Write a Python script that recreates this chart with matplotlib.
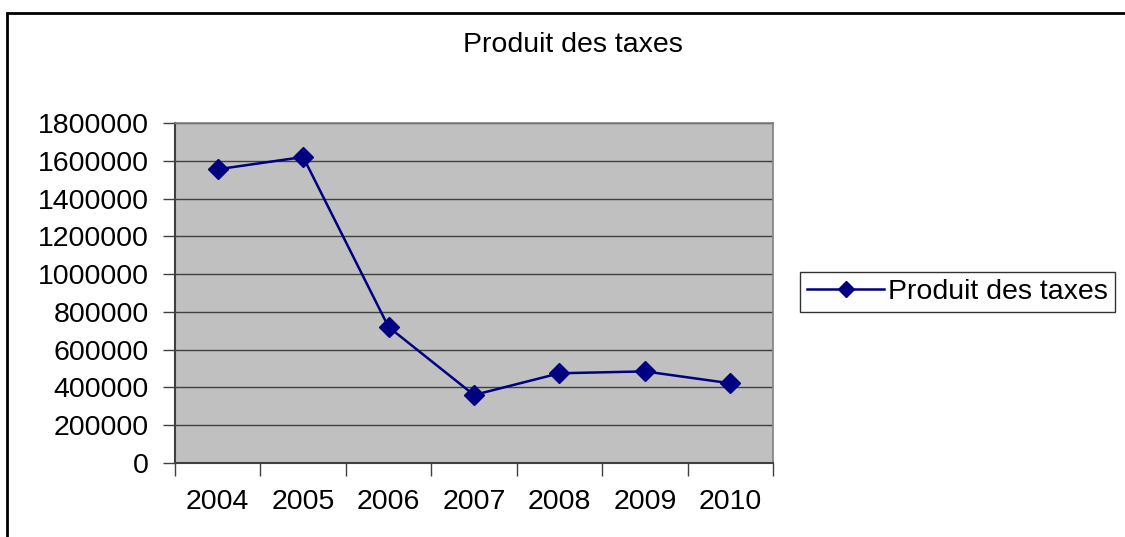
import matplotlib.pyplot as plt
from matplotlib.patches import Rectangle

plt.rcParams['font.family'] = ['Liberation Sans', 'DejaVu Sans']

# Data
years = ['2004', '2005', '2006', '2007', '2008', '2009', '2010']
produit = [1555000, 1620000, 720000, 360000, 475000, 485000, 422000]
yticks = list(range(0, 1800001, 200000))

W, H = 1125, 537
fig = plt.figure(figsize=(W / 100, H / 100), dpi=100)
fig.patch.set_facecolor('white')

ax = fig.add_axes([175 / W, 1 - 463 / H, (773 - 175) / W, (463 - 123) / H])
ax.set_facecolor('#c0c0c0')

x = list(range(len(years)))
ax.plot(x, produit, color='#000080', linewidth=1.8, marker='D', markersize=10,
        markeredgecolor='#000080', markerfacecolor='#000080', label='Produit des taxes',
        zorder=3, clip_on=False)

FS = 20.5
ax.set_xlim(-0.5, len(years) - 0.5)
ax.set_ylim(0, 1800000)
ax.set_yticks(yticks)
ax.set_yticklabels([str(v) for v in yticks], fontsize=FS)
ax.set_xticks([i - 0.5 for i in range(len(years) + 1)])
ax.set_xticklabels([])
ax.set_xticks(x, minor=True)
ax.set_xticklabels(years, minor=True, fontsize=FS)
ax.tick_params(axis='x', which='minor', length=0, pad=19)
ax.tick_params(axis='x', which='major', length=9, width=1, color='#404040')
ax.tick_params(axis='y', length=9, width=1, color='#404040', pad=10)

ax.grid(axis='y', color='#404040', linewidth=1)
ax.set_axisbelow(True)
for side in ['top', 'right']:
    ax.spines[side].set_color('#808080')
    ax.spines[side].set_linewidth(1.2)
for side in ['left', 'bottom']:
    ax.spines[side].set_color('#404040')
    ax.spines[side].set_linewidth(1.5)

fig.text(573 / W, 1 - 45 / H, 'Produit des taxes', ha='center', va='center', fontsize=FS)

leg = fig.legend(loc='center left', bbox_to_anchor=(800 / W, 1 - 292 / H),
                 bbox_transform=fig.transFigure, fontsize=FS, frameon=True,
                 fancybox=False, handlelength=2.7, handletextpad=0.15,
                 borderpad=0.25, borderaxespad=0, markerscale=0.8)
leg.get_frame().set_edgecolor('black')
leg.get_frame().set_linewidth(1)

# outer chart border (right and bottom edges fall outside the image)
fig.patches.append(Rectangle((7, -20), W + 20, H - 13 + 20, transform=None,
                             fill=False, edgecolor='black', linewidth=2))

fig.savefig('out.png', dpi=100, facecolor='white')
